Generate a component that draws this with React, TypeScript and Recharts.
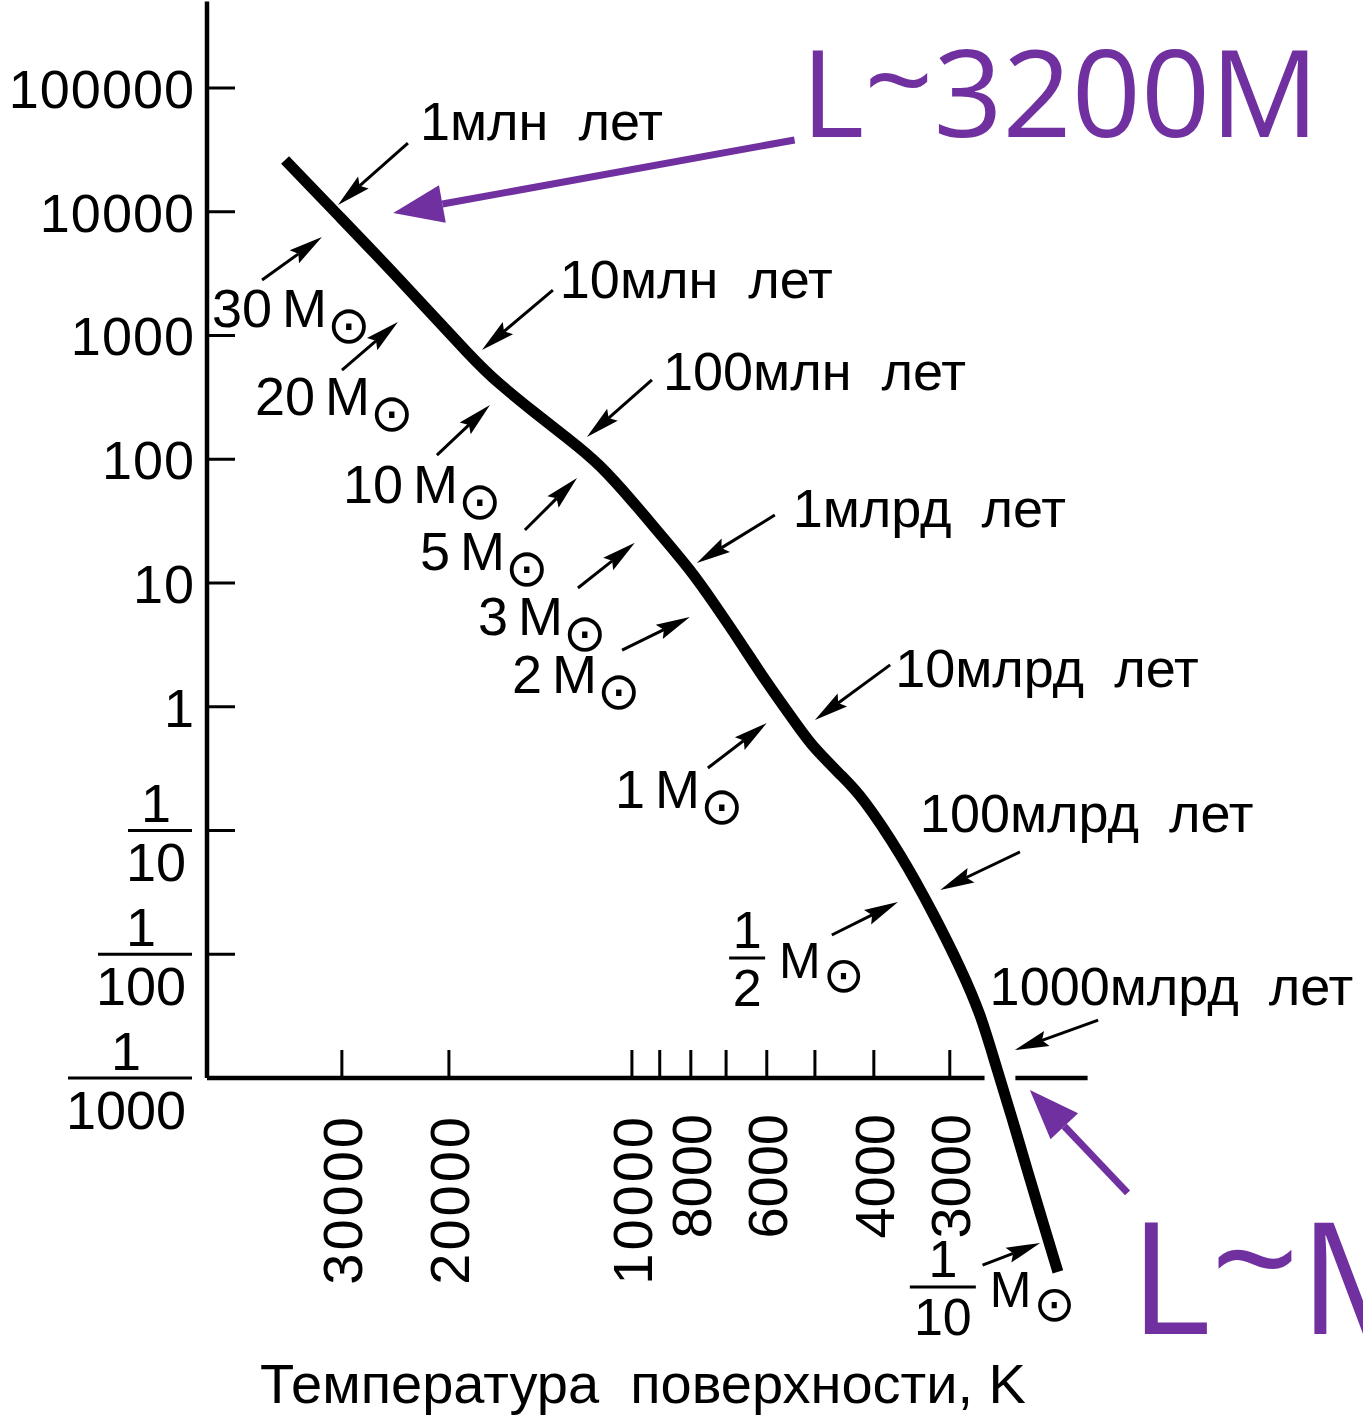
import React from 'react';
import { ComposedChart, Line, XAxis, YAxis, ReferenceLine, ReferenceDot } from 'recharts';

const FONT = '"Liberation Sans", Arial, sans-serif';
const PURPLE = '#7030a0';

// main-sequence track: surface temperature (K) -> luminosity (L sun)
const trackT = [37200, 30220, 24080, 18680, 16490, 14550, 12790, 11290, 9960, 8990, 8030, 7300, 6640, 6000, 5350, 5000, 4550, 4140, 3620, 3200, 2890, 2677, 2520, 2371, 2232, 2109, 1992];
const trackL = [26190, 9070, 2810, 736, 406, 245, 149, 88.2, 45.1, 24.9, 12.7, 6.64, 3.34, 1.58, 0.712, 0.464, 0.286, 0.17, 0.0634, 0.0215, 0.00788, 0.00323, 0.00127, 0.000475, 0.000174, 0.0000686, 0.0000271];

// axes
const yTicks = [100000, 10000, 1000, 100, 10, 1, 0.1, 0.01, 0.001];
const yTickLabels = ['100000', '10000', '1000', '100', '10', '1', '1/10', '1/100', '1/1000'];
const xTicks = [30000, 20000, 10000, 9000, 8000, 7000, 6000, 5000, 4000, 3000];
const xTickLabels = ['30000', '20000', '10000', '', '8000', '', '6000', '', '4000', '3000'];
const xTitle = 'Температура  поверхности, K';

// lifetime marks
const ageText = ['1млн  лет', '10млн  лет', '100млн  лет', '1млрд  лет', '10млрд  лет', '100млрд  лет', '1000млрд  лет'];
const ageTextT = [22320, 13140, 8890, 5440, 3690, 3360, 2580];
const ageTextL = [38000, 2010, 363, 28.4, 1.44, 0.0973, 0.00389];
const ageFromT = [23360, 13490, 9270, 5820, 3760, 2300, 1710];
const ageFromL = [35900, 2330, 437, 35.4, 2.18, 0.0671, 0.00294];
const ageToT = [30450, 17650, 11860, 7820, 5000, 3110, 2345];
const ageToL = [11340, 764, 151, 14.5, 0.781, 0.0331, 0.00168];

// mass marks
const massNum = ['30', '20', '10', '5', '3', '2', '1'];
const massTextT = [49070, 41700, 29880, 22320, 17920, 15750, 10660];
const massTextL = [1171, 228, 44.3, 12.7, 3.8, 1.29, 0.152];
const massFromT = [40590, 29990, 20930, 15000, 12270, 10380, 7500];
const massFromL = [2810, 526, 108, 26.8, 9.11, 2.87, 0.32];
const massToT = [32350, 24260, 17120, 12310, 9890, 8030, 6000];
const massToL = [6250, 1286, 274, 70.6, 21.1, 5.31, 0.739];

const fracDen = ['2', '10'];
const fracT = [6920, 3490];
const fracL = [0.00932, 0.0000205];
const fracFromT = [4690, 2650];
const fracFromL = [0.0143, 0.0000308];
const fracToT = [3650, 2130];
const fracToL = [0.0264, 0.0000464];

// purple notes
const noteText = ['L~3200M', 'L~M'];
const noteT = [5270, 1517];
const noteL = [40200, 0.0000085];
const noteFromT = [5400, 1530];
const noteFromL = [38000, 0.000118];
const noteToT = [24700, 2215];
const noteToL = [9770, 0.0008];

const data = trackT.map((t, i) => ({ t, l: trackL[i] }));

const arrowShape = (color: string, lw: number, headL: number, headW: number, notchK: number) => (p: any) => {
  const { x1, y1, x2, y2 } = p;
  const a = Math.atan2(y2 - y1, x2 - x1);
  const ux = Math.cos(a), uy = Math.sin(a);
  const nx = -uy, ny = ux;
  const bx = x2 - ux * headL, by = y2 - uy * headL;
  const nL = headL * notchK;
  const pts = [
    [x2, y2],
    [bx + nx * headW / 2, by + ny * headW / 2],
    [x2 - ux * nL, y2 - uy * nL],
    [bx - nx * headW / 2, by - ny * headW / 2],
  ];
  return (
    <g>
      <line x1={x1} y1={y1} x2={x2 - ux * nL} y2={y2 - uy * nL} stroke={color} strokeWidth={lw} />
      <polygon points={pts.map(q => q.join(',')).join(' ')} fill={color} />
    </g>
  );
};
const blackArrow = arrowShape('#000', 3, 34, 16, 0.85);
const purpleArrow = arrowShape(PURPLE, 7, 50, 38, 1);

const YTick = (p: any) => {
  const { x, y, payload } = p;
  const lbl = yTickLabels[yTicks.indexOf(payload.value)] ?? '';
  const parts = lbl.split('/');
  let label;
  if (parts.length === 1) {
    label = <text x={x - 12} y={y + 20} textAnchor="end" fontSize={54} letterSpacing={1}>{lbl}</text>;
  } else {
    const w = parts[1].length * 30 + 4;
    const right = x - 15;
    const c = right - w / 2 - 4;
    label = (
      <g>
        <text x={c} y={y - 8} textAnchor="middle" fontSize={54}>{parts[0]}</text>
        <line x1={right - w} y1={y} x2={right} y2={y} stroke="#000" strokeWidth={3} />
        <text x={c} y={y + 51} textAnchor="middle" fontSize={54}>{parts[1]}</text>
      </g>
    );
  }
  return (
    <g fontFamily={FONT} fill="#000">
      <line x1={x} y1={y} x2={x + 28} y2={y} stroke="#000" strokeWidth={3} />
      {label}
    </g>
  );
};

const xTickShape = (lbl: string) => (p: any) => (
  <g>
    <line x1={p.cx} y1={p.cy} x2={p.cx} y2={p.cy - 28} stroke="#000" strokeWidth={3} />
    {lbl && (
      <text transform={`translate(${p.cx},${p.cy + 36}) rotate(-90)`} textAnchor="end" dy="0.36em"
        fontFamily={FONT} fontSize={56} letterSpacing={lbl.length > 4 ? 3 : 0} fill="#000">{lbl}</text>
    )}
  </g>
);

const ageShape = (txt: string) => (p: any) => (
  <text x={p.cx} y={p.cy} fontFamily={FONT} fontSize={54} fill="#000" style={{ whiteSpace: 'pre' }}>{txt}</text>
);

const massShape = (num: string) => (p: any) => (
  <text x={p.cx} y={p.cy} fontFamily={FONT} fontSize={54} fill="#000">
    {num}<tspan dx={10}>M</tspan><tspan dx={0} dy={16} fontFamily="DejaVu Sans" fontSize={52}>⊙</tspan>
  </text>
);

const fracShape = (den: string) => (p: any) => {
  const w = den.length * 30 + 6;
  const c = p.cx + w / 2;
  return (
    <g fontFamily={FONT} fill="#000">
      <text x={c} y={p.cy - 10} textAnchor="middle" fontSize={52}>1</text>
      <line x1={p.cx} y1={p.cy} x2={p.cx + w} y2={p.cy} stroke="#000" strokeWidth={3} />
      <text x={c} y={p.cy + 48} textAnchor="middle" fontSize={52}>{den}</text>
      <text x={p.cx + w + 14} y={p.cy + 20} fontSize={50}>
        M<tspan dx={2} dy={14} fontFamily="DejaVu Sans" fontSize={50}>⊙</tspan>
      </text>
    </g>
  );
};

const noteShape = (txt: string, size: number, lift: number) => (p: any) => {
  const [a, b] = txt.split('~');
  return (
    <text x={p.cx} y={p.cy} fontFamily='"Open Sans", sans-serif' fontSize={size} fill={PURPLE}>
      {a}<tspan dy={-lift}>~</tspan><tspan dy={lift}>{b}</tspan>
    </text>
  );
};

const titleShape = (p: any) => (
  <text x={p.cx} y={p.cy} textAnchor="middle" fontFamily={FONT} fontSize={56} fill="#000" style={{ whiteSpace: 'pre' }}>{xTitle}</text>
);

export default function App() {
  return (
    <div style={{ position: 'absolute', left: 0, top: 0, width: 1363, height: 1420, background: '#fff' }}>
      <ComposedChart width={1363} height={1420} data={data} margin={{ top: 1.5, right: 29, bottom: 94.5, left: 0 }}>
        <XAxis dataKey="t" type="number" scale="log" domain={[700, 50000]} reversed hide height={0} />
        <YAxis type="number" scale="log" domain={[0.00001, 500000]} width={207} ticks={yTicks} interval={0}
          axisLine={false} tickLine={false} tickSize={0} tickMargin={0} tick={(p: any) => <YTick {...p} />} />

        {/* axis lines */}
        <ReferenceLine segment={[{ x: 50000, y: 0.001 }, { x: 50000, y: 500000 }]} stroke="#000" strokeWidth={4.5} ifOverflow="visible" />
        <ReferenceLine segment={[{ x: 50000, y: 0.001 }, { x: 2630, y: 0.001 }]} stroke="#000" strokeWidth={4.5} ifOverflow="visible" />
        <ReferenceLine segment={[{ x: 2340, y: 0.001 }, { x: 1780, y: 0.001 }]} stroke="#000" strokeWidth={4.5} ifOverflow="visible" />
        {xTicks.map((t, i) => (
          <ReferenceDot key={'xt' + t} x={t} y={0.001} r={0} ifOverflow="visible" shape={xTickShape(xTickLabels[i])} />
        ))}
        <ReferenceDot x={9590} y={0.00000237} r={0} ifOverflow="visible" shape={titleShape} />

        <Line dataKey="l" type="natural" stroke="#000" strokeWidth={11} dot={false} isAnimationActive={false} />

        {ageText.map((s, i) => (
          <ReferenceLine key={'aa' + i} segment={[{ x: ageFromT[i], y: ageFromL[i] }, { x: ageToT[i], y: ageToL[i] }]}
            ifOverflow="visible" shape={blackArrow} />
        ))}
        {ageText.map((s, i) => (
          <ReferenceDot key={'at' + i} x={ageTextT[i]} y={ageTextL[i]} r={0} ifOverflow="visible" shape={ageShape(s)} />
        ))}
        {massNum.map((s, i) => (
          <ReferenceLine key={'ma' + i} segment={[{ x: massFromT[i], y: massFromL[i] }, { x: massToT[i], y: massToL[i] }]}
            ifOverflow="visible" shape={blackArrow} />
        ))}
        {massNum.map((s, i) => (
          <ReferenceDot key={'mt' + i} x={massTextT[i]} y={massTextL[i]} r={0} ifOverflow="visible" shape={massShape(s)} />
        ))}
        {fracDen.map((s, i) => (
          <ReferenceLine key={'fa' + i} segment={[{ x: fracFromT[i], y: fracFromL[i] }, { x: fracToT[i], y: fracToL[i] }]}
            ifOverflow="visible" shape={blackArrow} />
        ))}
        {fracDen.map((s, i) => (
          <ReferenceDot key={'ft' + i} x={fracT[i]} y={fracL[i]} r={0} ifOverflow="visible" shape={fracShape(s)} />
        ))}

        {noteText.map((s, i) => (
          <ReferenceLine key={'na' + i} segment={[{ x: noteFromT[i], y: noteFromL[i] }, { x: noteToT[i], y: noteToL[i] }]}
            ifOverflow="visible" shape={purpleArrow} />
        ))}
        <ReferenceDot x={noteT[0]} y={noteL[0]} r={0} ifOverflow="visible" shape={noteShape(noteText[0], 121, 14)} />
        <ReferenceDot x={noteT[1]} y={noteL[1]} r={0} ifOverflow="visible" shape={noteShape(noteText[1], 155, 20)} />
      </ComposedChart>
    </div>
  );
}
